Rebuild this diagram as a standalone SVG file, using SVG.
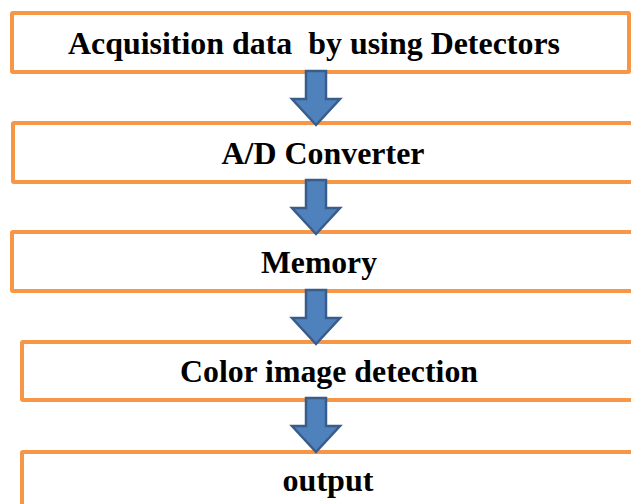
<svg xmlns="http://www.w3.org/2000/svg" width="631" height="504" viewBox="0 0 631 504">
<style>
.box{fill:#fff;stroke:#F79646;stroke-width:4;}
.lbl{font-family:"Liberation Serif","Times New Roman",serif;font-weight:bold;font-size:31px;fill:#000;text-anchor:middle;white-space:pre;}
.arr{fill:#4F81BD;stroke:#385D8A;stroke-width:2.5;stroke-linejoin:miter;}
</style>
<defs>
<path id="ar" d="M-10,0 H10 V28 H24 L0,54 L-24,28 H-10 Z"/>
</defs>
<rect width="631" height="504" fill="#fff"/>
<g id="n1"><rect class="box" x="12" y="13" width="617" height="59" rx="1"/><text class="lbl" x="314" y="54" textLength="492" lengthAdjust="spacingAndGlyphs" xml:space="preserve">Acquisition data  by using Detectors</text></g>
<g id="n2"><rect class="box" x="13" y="123" width="640" height="59" rx="1"/><text class="lbl" x="323" y="164" textLength="203" lengthAdjust="spacingAndGlyphs">A/D Converter</text></g>
<g id="n3"><rect class="box" x="12" y="232" width="640" height="59" rx="1"/><text class="lbl" x="319" y="273" textLength="116" lengthAdjust="spacingAndGlyphs">Memory</text></g>
<g id="n4"><rect class="box" x="22" y="342" width="640" height="58" rx="1"/><text class="lbl" x="329" y="382" textLength="298" lengthAdjust="spacingAndGlyphs">Color image detection</text></g>
<g id="n5"><rect class="box" x="22" y="452" width="640" height="70" rx="1"/><text class="lbl" x="328" y="491" textLength="91" lengthAdjust="spacingAndGlyphs">output</text></g>
<g id="connectors">
<use href="#ar" class="arr" x="316" y="71"/>
<use href="#ar" class="arr" x="316" y="180"/>
<use href="#ar" class="arr" x="316" y="290"/>
<use href="#ar" class="arr" x="316" y="398"/>
</g>
</svg>
